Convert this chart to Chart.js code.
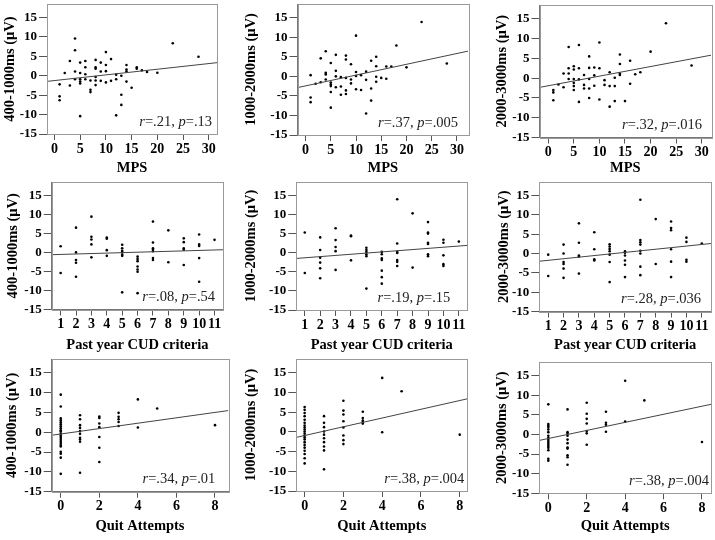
<!DOCTYPE html>
<html>
<head>
<meta charset="utf-8">
<script src="https://cdn.jsdelivr.net/npm/chart.js@4.4.1/dist/chart.umd.min.js"></script>
<style>
  body { margin: 0; background: #fff; width: 715px; height: 540px; position: relative; overflow: hidden; }
  canvas { position: absolute; }
</style>
</head>
<body>
<script>
// tick labels and axis titles
const mpsTicks = [0, 5, 10, 15, 20, 25, 30];
const cudTicks = [1, 2, 3, 4, 5, 6, 7, 8, 9, 10, 11];
const quitTicks = [0, 2, 4, 6, 8];
const yTicks = [-15, -10, -5, 0, 5, 10, 15];
const yTitles = ['400-1000ms (μV)', '1000-2000ms (μV)', '2000-3000ms (μV)'];
const xTitles = ['MPS', 'Past year CUD criteria', 'Quit Attempts'];

// stats shown in each panel (row by row)
const rValues = ['.21', '.37', '.32', '.08', '.19', '.28', '.34', '.38', '.38'];
const pValues = ['.13', '.005', '.016', '.54', '.15', '.036', '.01', '.004', '.004'];

// fit lines
const fitIntercepts = [-1.23, -2.44, -1.92, -0.65, -1.64, -2.17, -0.43, -0.92, -1.02];
const fitSlopes = [0.146, 0.276, 0.243, 0.117, 0.307, 0.41, 0.68, 1.11, 1.03];

// [x, µV] points
const mps400 = [[1,-2.2],[1,-5.3],[1,-6.3],[2,0.7],[3,3.8],[3,-2.5],[4,9.6],[4,6.6],[4,1.1],[4,-0.9],[5,3.4],[5,0.7],[5,-0.9],[5,-1.5],[5,-2],[5,-10.4],[6,3.8],[6,2.2],[6,0.4],[6,-0.9],[7,-1.2],[7,-3.6],[7,-4.2],[8,4.1],[8,2.2],[8,1.8],[8,-0.3],[8,-1.2],[8,-2.4],[9,3.4],[9,1.1],[9,-1.3],[10,6.1],[10,2.8],[10,1.2],[10,-1.7],[11,4.3],[11,-1.3],[12,0.3],[12,-0.9],[12,-10.2],[13,0],[13,-4.9],[13,-7.5],[14,2.8],[14,1.6],[14,1.1],[14,-1.5],[15,-3.1],[16,2.2],[16,1.8],[17,1.4],[18,1.0],[20,0.8],[23,8.4],[28,4.9]];
const mps1000 = [[1,0.3],[1,-5.4],[1,-6.6],[2,-1.9],[3,4.6],[3,-1.5],[4,6.4],[4,0.9],[4,0.5],[4,-0.8],[5,3.4],[5,-1.6],[5,-2.1],[5,-2.5],[5,-4],[5,-8],[6,5.5],[6,1.4],[6,0],[6,-2.8],[7,-0.2],[7,-2.6],[7,-4.7],[8,5.3],[8,4.3],[8,-0.4],[8,-3.6],[8,-4.5],[9,3.1],[9,-0.8],[9,-1.8],[10,10.4],[10,1.1],[10,0.1],[10,-3.3],[11,0.3],[11,-3.5],[12,1.2],[12,-0.9],[12,-9.5],[13,4],[13,-3.1],[13,-6.2],[14,5],[14,2.6],[14,-0.1],[14,-1.4],[15,-0.4],[16,2.5],[16,-0.6],[17,2.5],[18,7.9],[20,2.3],[23,13.9],[28,3.3]];
const mps2000 = [[1,-3.0],[1,-3.6],[1,-5.6],[2,-1.6],[3,1.2],[3,-2.3],[4,7.9],[4,2.5],[4,1.2],[4,-0.2],[5,3.0],[5,2.2],[5,-0.2],[5,-1.2],[5,-2.0],[5,-3.0],[6,8.4],[6,2.5],[6,-0.3],[6,-6.0],[7,0.8],[7,-1.7],[7,-2.6],[8,5.5],[8,2.6],[8,-0.2],[8,-2.6],[8,-5.0],[9,2.7],[9,0.7],[9,-1.9],[10,9.0],[10,2.5],[10,-5.4],[11,-0.5],[11,-1.7],[12,1.5],[12,-2.0],[12,-7.2],[13,0.1],[13,-2.0],[13,-5.8],[14,6.0],[14,3.6],[14,1.2],[14,0.8],[15,-5.8],[16,4.4],[16,-1.4],[17,1.0],[18,1.5],[20,6.7],[23,13.9],[28,3.2]];
const cud400 = [[1,1.6],[1,-5.4],[2,6.5],[2,0],[2,-2.0],[2,-2.7],[2,-6.4],[3,9.4],[3,4.1],[3,3.4],[3,2.1],[3,-1.3],[4,3.9],[4,3.6],[4,0.6],[4,-0.9],[5,2.0],[5,1.1],[5,0.4],[5,0],[5,-0.6],[5,-0.9],[5,-10.5],[6,-1.1],[6,-1.7],[6,-2.3],[6,-3.7],[6,-4.5],[6,-5.1],[6,-10.7],[7,8.1],[7,2.6],[7,1.1],[7,0.7],[7,0.3],[7,-1.5],[7,-2.0],[8,5.8],[8,-2.6],[9,3.7],[9,2.7],[9,1.1],[9,0.7],[9,-3.3],[10,4.7],[10,2.1],[10,1.7],[10,-1.5],[10,-7.7],[11,3.3]];
const cud1000 = [[1,5.3],[1,-5.3],[2,4.0],[2,0.7],[2,-1.3],[2,-2.6],[2,-4.1],[2,-6.7],[3,6.4],[3,3.3],[3,1.5],[3,0.4],[3,-4.5],[4,4.5],[4,4.3],[4,-2.0],[5,1.3],[5,0.7],[5,0.2],[5,-0.4],[5,-0.9],[5,-9.4],[6,0.2],[6,-0.4],[6,-1.5],[6,-1.9],[6,-4.7],[6,-6.4],[6,-8.1],[7,14.0],[7,2.4],[7,0.2],[7,-0.1],[7,-1.9],[7,-2.4],[7,-3.5],[8,10.3],[8,-3.9],[9,8.0],[9,5.3],[9,5.0],[9,2.6],[9,2.3],[9,-0.4],[9,-0.9],[10,3.4],[10,2.6],[10,-0.7],[10,-3.0],[10,-3.5],[11,2.9]];
const cud2000 = [[1,-0.3],[1,-5.8],[2,2.3],[2,0],[2,-2.2],[2,-2.7],[2,-3.9],[2,-6.3],[3,7.8],[3,2.8],[3,-0.5],[3,-0.8],[3,-5.2],[4,5.5],[4,1.1],[4,-1.5],[4,-1.8],[5,2.4],[5,1.8],[5,1.2],[5,0.6],[5,-0.3],[5,-2.2],[5,-7.4],[6,0.6],[6,0.2],[6,-0.5],[6,-1.8],[6,-2.9],[6,-6.1],[7,13.9],[7,3.5],[7,2.9],[7,2.3],[7,0.7],[7,0],[7,-3.4],[7,-5.6],[8,8.9],[8,-2.7],[9,8.3],[9,6.6],[9,6.0],[9,1.1],[9,-2.1],[9,-6.1],[10,4.1],[10,3.0],[10,-1.6],[10,-2.1],[11,2.6]];
const quit400 = [[0,9.5],[0,6.5],[0,3.5],[0,3.0],[0,2.5],[0,2.0],[0,1.5],[0,1.0],[0,0.5],[0,0.2],[0,-0.3],[0,-0.8],[0,-1.2],[0,-1.7],[0,-2.2],[0,-2.7],[0,-3.2],[0,-3.6],[0,-4.9],[0,-5.4],[0,-6.4],[0,-10.5],[1,4.3],[1,3.3],[1,1.8],[1,1.1],[1,0.3],[1,-0.4],[1,-1.4],[1,-1.8],[1,-2.4],[1,-10.2],[2,4.0],[2,3.6],[2,2.2],[2,1.3],[2,-1.2],[2,-3.9],[2,-7.5],[3,4.9],[3,3.9],[3,3.3],[3,2.6],[3,1.6],[4,8.3],[4,1.2],[5,6.0],[8,1.8]];
const quit1000 = [[0,6.3],[0,5.6],[0,4.8],[0,4.0],[0,3.1],[0,2.3],[0,1.6],[0,1.1],[0,0.6],[0,0.1],[0,-0.4],[0,-0.9],[0,-1.4],[0,-1.9],[0,-2.6],[0,-3.3],[0,-4.0],[0,-4.8],[0,-5.6],[0,-6.7],[0,-8.0],[1,4.0],[1,2.3],[1,1.2],[1,0.1],[1,-0.7],[1,-1.6],[1,-2.6],[1,-3.7],[1,-4.7],[1,-9.5],[2,7.9],[2,5.4],[2,4.4],[2,2.7],[2,1.1],[2,-0.9],[2,-2.1],[2,-3.1],[3,5.1],[3,3.5],[3,2.9],[3,2.5],[3,2.1],[4,13.7],[4,-0.1],[5,10.3],[8,-0.7]];
const quit2000 = [[0,7.7],[0,2.7],[0,2.3],[0,1.9],[0,1.3],[0,0.6],[0,-0.3],[0,-0.9],[0,-1.4],[0,-1.9],[0,-2.4],[0,-2.9],[0,-3.4],[0,-4.0],[0,-6.2],[0,-6.7],[1,6.4],[1,0.6],[1,0.2],[1,-0.3],[1,-1.3],[1,-2.2],[1,-3.3],[1,-3.6],[1,-5.3],[1,-5.8],[1,-7.7],[2,8.1],[2,5.3],[2,4.0],[2,2.8],[2,0.9],[2,0.3],[2,-2.6],[3,5.8],[3,3.0],[3,2.5],[3,0.7],[4,13.7],[4,3.3],[5,8.7],[8,-1.9]];

const panels = [mps400, mps1000, mps2000, cud400, cud1000, cud2000, quit400, quit1000, quit2000];
const xTickSets = [mpsTicks, cudTicks, quitTicks];
const xRanges = [[-1.45, 31.6], [-1.6, 32.2], [-1.7, 31.8], [0.42, 11.55], [0.45, 11.55], [0.42, 11.6], [-0.47, 8.69], [-0.43, 8.39], [-0.47, 8.47]];

// layout: canvas [left, top, w, h], frame [l, t, r, b], y-title offset, stats inset
const boxes = [
  { c: [0, 0, 238, 178], f: [47, 3.5, 217, 134], tp: 1.3, ti: 5 },
  { c: [238, 0, 238, 178], f: [297.5, 4, 468, 135], tp: 4.6, ti: 10 },
  { c: [476, 0, 239, 178], f: [539.5, 5, 712, 137.5], tp: 18, ti: 9 },
  { c: [0, 178, 238, 177], f: [51.7, 179.5, 223, 309.5], tp: 4.6, ti: 8 },
  { c: [238, 178, 238, 177], f: [296.3, 180, 467.3, 310], tp: 4.6, ti: 17 },
  { c: [476, 178, 239, 177], f: [539.3, 181, 712.5, 311.5], tp: 19.6, ti: 10 },
  { c: [0, 355, 238, 181], f: [51.7, 358.5, 228.3, 491.7], tp: 3.6, ti: 13 },
  { c: [238, 355, 238, 181], f: [296.3, 359, 467.3, 491], tp: 4.6, ti: 3 },
  { c: [476, 355, 239, 181], f: [539.3, 362, 711, 493.3], tp: 18, ti: 2 }
];

const serif = "'Liberation Serif', 'Times New Roman', serif";

// grey box round the plot area
const framePlugin = {
  id: 'frame',
  afterDraw(chart) {
    const { ctx, chartArea: a } = chart;
    ctx.save();
    ctx.strokeStyle = '#9a9a9a';
    ctx.lineWidth = 1;
    ctx.strokeRect(Math.round(a.left) + 0.5, Math.round(a.top) + 0.5, Math.round(a.width), Math.round(a.height));
    ctx.restore();
  }
};

// "r=.xx, p=.xx" in the lower right corner
const statsPlugin = {
  id: 'stats',
  afterDatasetsDraw(chart, args, opts) {
    const { ctx, chartArea: a } = chart;
    const parts = [['r', 'italic'], ['=' + opts.r + ', ', 'normal'], ['p', 'italic'], ['=' + opts.p, 'normal']];
    ctx.save();
    ctx.fillStyle = '#222';
    ctx.textBaseline = 'alphabetic';
    let total = 0;
    parts.forEach(pt => { ctx.font = pt[1] + ' 14.5px ' + serif; total += ctx.measureText(pt[0]).width; });
    let x = a.right - opts.inset - total;
    const y = a.bottom - 8.5;
    parts.forEach(pt => {
      ctx.font = pt[1] + ' 14.5px ' + serif;
      ctx.fillText(pt[0], x, y);
      x += ctx.measureText(pt[0]).width;
    });
    ctx.restore();
  }
};

panels.forEach((pts, i) => {
  const row = Math.floor(i / 3), col = i % 3;
  const b = boxes[i];
  const cv = document.createElement('canvas');
  cv.width = b.c[2];
  cv.height = b.c[3];
  cv.style.left = b.c[0] + 'px';
  cv.style.top = b.c[1] + 'px';
  document.body.appendChild(cv);

  const [xmin, xmax] = xRanges[i];
  const a = fitIntercepts[i], s = fitSlopes[i];

  new Chart(cv, {
    type: 'scatter',
    data: {
      datasets: [
        {
          data: [{ x: xmin, y: a + s * xmin }, { x: xmax, y: a + s * xmax }],
          showLine: true,
          pointRadius: 0,
          borderColor: '#444',
          borderWidth: 1
        },
        {
          data: pts.map(p => ({ x: p[0], y: p[1] })),
          pointRadius: 1.3,
          pointBackgroundColor: '#000',
          pointBorderWidth: 0
        }
      ]
    },
    options: {
      responsive: false,
      animation: false,
      devicePixelRatio: 1,
      events: [],
      layout: { padding: { top: b.f[1] - b.c[1], right: b.c[0] + b.c[2] - b.f[2], left: 0, bottom: 0 } },
      plugins: {
        legend: { display: false },
        tooltip: { enabled: false },
        stats: { r: rValues[i], p: pValues[i], inset: b.ti }
      },
      scales: {
        x: {
          type: 'linear',
          min: xmin,
          max: xmax,
          afterBuildTicks: sc => { sc.ticks = xTickSets[row].map(v => ({ value: v })); },
          afterFit: sc => { sc.height = b.c[1] + b.c[3] - b.f[3]; sc.paddingLeft = 0; sc.paddingRight = 0; },
          grid: { drawOnChartArea: false, tickLength: 6, color: '#555' },
          border: { color: '#777' },
          ticks: { font: { family: serif, size: 14, weight: 'bold' }, color: '#000', padding: 0.6, maxRotation: 0, autoSkip: false },
          title: { display: true, text: xTitles[row], font: { family: serif, size: 14.5, weight: 'bold' }, color: '#000', padding: { top: 0, bottom: 1 } }
        },
        y: {
          type: 'linear',
          min: -15,
          max: 18.5,
          afterBuildTicks: sc => { sc.ticks = yTicks.map(v => ({ value: v })); },
          afterFit: sc => { sc.width = b.f[0] - b.c[0]; sc.paddingTop = 0; sc.paddingBottom = 0; },
          grid: { drawOnChartArea: false, tickLength: 8, color: '#555' },
          border: { color: '#777' },
          ticks: { font: { family: serif, size: 13, weight: 'bold' }, color: '#000', padding: 2, autoSkip: false },
          title: { display: true, text: yTitles[col], font: { family: serif, size: 14.5, weight: 'bold' }, color: '#000', padding: { top: b.tp, bottom: 0 } }
        }
      }
    },
    plugins: [framePlugin, statsPlugin]
  });
});
</script>
</body>
</html>
